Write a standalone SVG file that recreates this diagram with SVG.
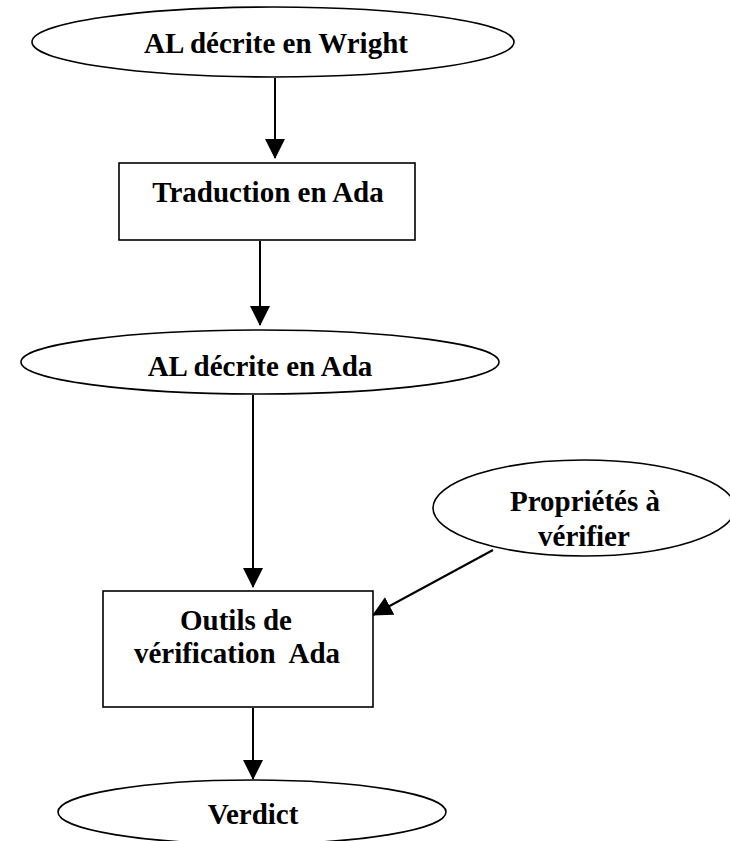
<svg xmlns="http://www.w3.org/2000/svg" width="730" height="841" viewBox="0 0 730 841">
  <style>
    .shape { fill: #ffffff; stroke: #000000; stroke-width: 1.6; }
    .label { font-family: "Liberation Serif", "Times New Roman", serif; font-weight: bold; font-size: 29px; fill: #000000; text-anchor: middle; }
    .edge { stroke: #000000; stroke-width: 2; fill: none; marker-end: url(#head); }
  </style>
  <defs>
    <marker id="head" viewBox="0 0 20 20" refX="19" refY="10" markerWidth="20" markerHeight="20" markerUnits="userSpaceOnUse" orient="auto">
      <path d="M0,0 L20,10 L0,20 z" fill="#000000"/>
    </marker>
  </defs>

  <rect width="730" height="841" fill="#ffffff"/>

  <g id="edges">
    <line class="edge" x1="275" y1="78" x2="275" y2="158"/>
    <line class="edge" x1="260" y1="241" x2="260" y2="325"/>
    <line class="edge" x1="253" y1="395" x2="253" y2="587"/>
    <line class="edge" x1="493" y1="550" x2="373" y2="615"/>
    <line class="edge" x1="253" y1="708" x2="253" y2="779"/>
  </g>

  <g id="wright">
    <ellipse class="shape" cx="273" cy="42" rx="241" ry="35"/>
    <text class="label" x="276" y="53">AL décrite en Wright</text>
  </g>

  <g id="traduction">
    <rect class="shape" x="119" y="163" width="296" height="77"/>
    <text class="label" x="268" y="202">Traduction en Ada</text>
  </g>

  <g id="ada">
    <ellipse class="shape" cx="260" cy="362" rx="239" ry="32"/>
    <text class="label" x="260" y="376">AL décrite en Ada</text>
  </g>

  <g id="proprietes">
    <ellipse class="shape" cx="584" cy="508" rx="151" ry="48"/>
    <text class="label" x="585" y="511">Propriétés à</text>
    <text class="label" x="584" y="546">vérifier</text>
  </g>

  <g id="outils">
    <rect class="shape" x="103" y="591" width="270" height="116"/>
    <text class="label" x="236" y="630">Outils de</text>
    <text class="label" x="237" y="663" xml:space="preserve">vérification  Ada</text>
  </g>

  <g id="verdict">
    <ellipse class="shape" cx="252" cy="812" rx="194" ry="32"/>
    <text class="label" x="253" y="824">Verdict</text>
  </g>
</svg>
